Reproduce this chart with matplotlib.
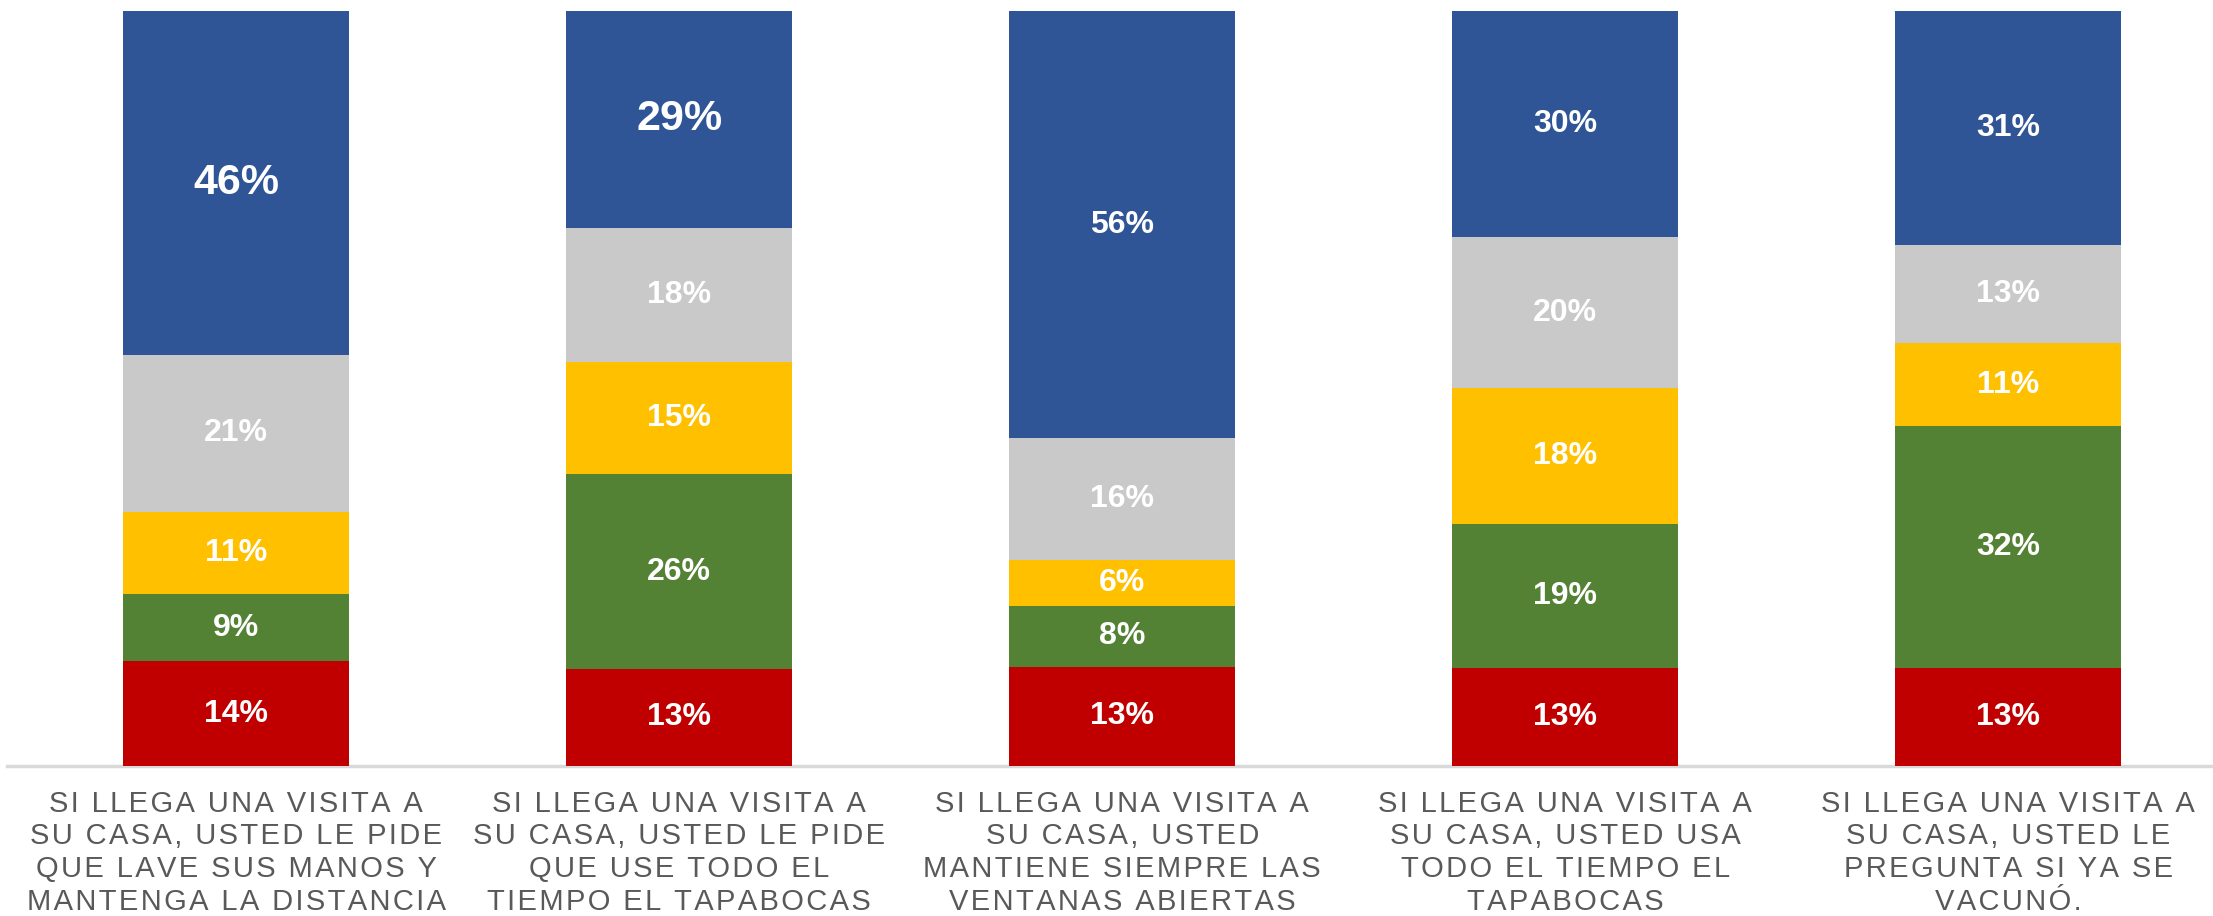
import numpy as np
import matplotlib
matplotlib.use("Agg")
import matplotlib.pyplot as plt

plt.rcParams["font.family"] = ["Liberation Sans", "DejaVu Sans"]

categories = [
    "SI LLEGA UNA VISITA A\nSU CASA, USTED LE PIDE\nQUE LAVE SUS MANOS Y\nMANTENGA LA DISTANCIA",
    "SI LLEGA UNA VISITA A\nSU CASA, USTED LE PIDE\nQUE USE TODO EL\nTIEMPO EL TAPABOCAS",
    "SI LLEGA UNA VISITA A\nSU CASA, USTED\nMANTIENE SIEMPRE LAS\nVENTANAS ABIERTAS",
    "SI LLEGA UNA VISITA A\nSU CASA, USTED USA\nTODO EL TIEMPO EL\nTAPABOCAS",
    "SI LLEGA UNA VISITA A\nSU CASA, USTED LE\nPREGUNTA SI YA SE\nVACUNÓ.",
]

# segments bottom -> top
red = [14, 13, 13, 13, 13]
green = [9, 26, 8, 19, 32]
yellow = [11, 15, 6, 18, 11]
gray = [21, 18, 16, 20, 13]
blue = [46, 29, 56, 30, 31]

series = [red, green, yellow, gray, blue]
colors = ["#C00000", "#548235", "#FFC000", "#C9C9C9", "#2F5597"]
big_labels = {(4, 0), (4, 1)}  # (series idx, bar idx) drawn larger


def spaced(s):
    # fake letter spacing with hair spaces
    return "\n".join("\u200a".join(line) for line in s.split("\n"))


fig = plt.figure(figsize=(22.13, 9.16), dpi=100)
ax = fig.add_axes([0, 0.1638, 1, 0.8242])

x = np.arange(len(categories))
data = np.array(series, dtype=float)
totals = data.sum(axis=0)
frac = data / totals

bottom = np.zeros(len(categories))
for si, (vals, col) in enumerate(zip(frac, colors)):
    ax.bar(x, vals, 0.51, bottom=bottom, color=col, edgecolor="none")
    for bi in range(len(categories)):
        fs = 31 if (si, bi) in big_labels else 23
        ax.text(x[bi], bottom[bi] + vals[bi] / 2, f"{series[si][bi]}%",
                ha="center", va="center", color="white",
                fontsize=fs, fontweight="bold")
    bottom += vals

ax.set_xlim(-0.533, 4.462)
ax.set_ylim(0, 1)
for sp in ax.spines.values():
    sp.set_visible(False)
ax.plot([-0.517, 4.462], [0, 0], color="#D9D9D9", lw=2.5, clip_on=False, zorder=0)
ax.set_yticks([])
ax.set_xticks(x)
ax.set_xticklabels([spaced(c) for c in categories], fontsize=21, color="#595959",
                   linespacing=1.22)
ax.tick_params(axis="x", length=0, pad=17)

fig.savefig("out.png", dpi=100)
